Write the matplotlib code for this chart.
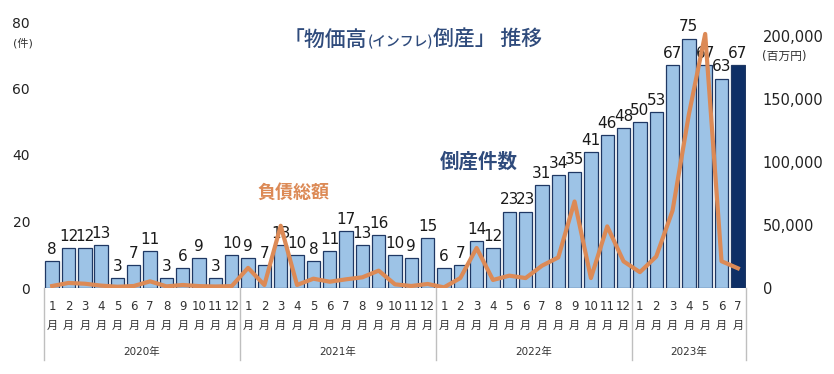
import numpy as np
import matplotlib
matplotlib.use("Agg")
import matplotlib.pyplot as plt
import matplotlib.transforms as mtransforms

plt.rcParams['font.family'] = ['DejaVu Sans', 'Noto Sans CJK JP']

# 倒産件数（月次）
years = ["2020年", "2021年", "2022年", "2023年"]
months_per_year = [12, 12, 12, 7]
counts = [8, 12, 12, 13, 3, 7, 11, 3, 6, 9, 3, 10,
          9, 7, 13, 10, 8, 11, 17, 13, 16, 10, 9, 15,
          6, 7, 14, 12, 23, 23, 31, 34, 35, 41, 46, 48,
          50, 53, 67, 75, 67, 63, 67]
# 負債総額（百万円）— 画像から読み取った概算値
debt = [1600, 4000, 3400, 1900, 1000, 1600, 5300, 1300, 2400, 1500, 1200, 1500,
        16000, 2400, 49500, 2400, 7400, 5000, 6900, 8500, 13800, 2900, 1600, 3200,
        500, 7900, 31800, 6400, 9800, 7900, 17700, 24300, 68800, 7900, 49000, 21200,
        12600, 25000, 61500, 138000, 202000, 21300, 15700]
left_ticks = [0, 20, 40, 60, 80]
right_ticks = [0, 50000, 100000, 150000, 200000]

BAR_COL = "#9DC3E6"
BAR_EDGE = "#1F3864"
LAST_COL = "#0E2F66"
LINE_COL = "#DC8A56"
TITLE_COL = "#2F4B7C"
GRID_GRAY = "#BFBFBF"

W, H = 834, 374
fig = plt.figure(figsize=(W / 100, H / 100), dpi=100)
ax = fig.add_axes([44 / W, 1 - 288 / H, 702 / W, 266 / H])

n = len(counts)
x = np.arange(n)
colors = [BAR_COL] * (n - 1) + [LAST_COL]
ax.bar(x, counts, width=0.82, color=colors, edgecolor=BAR_EDGE, linewidth=0.9, zorder=2)
ax.set_xlim(-0.5, n - 0.5)
ax.set_ylim(0, 80)
ax.set_yticks(left_ticks)
ax.tick_params(axis="y", length=0, labelsize=10, pad=10, labelcolor="#222222")
ax.set_xticks([])
for s in ax.spines.values():
    s.set_visible(False)
ax.axhline(0, color=GRID_GRAY, lw=1.0, zorder=1)

for xi, c in zip(x, counts):
    ax.annotate(str(c), (xi, c), xytext=(0, 3), textcoords="offset points",
                ha="center", va="bottom", fontsize=11, color="#1a1a1a", zorder=5)

# 月・年ラベル（Excel の多段カテゴリ軸風）
trans = mtransforms.blended_transform_factory(ax.transData, ax.transAxes)
i = 0
bounds = [-0.5]
for yr, nm in zip(years, months_per_year):
    for m in range(1, nm + 1):
        ax.text(i, -0.068, str(m), transform=trans, ha="center", va="center",
                fontsize=8.5, color="#333333")
        ax.text(i, -0.142, "月", transform=trans, ha="center", va="center",
                fontsize=8, color="#333333")
        i += 1
    bounds.append(i - 0.5)
    ax.text((bounds[-2] + bounds[-1]) / 2, -0.24, yr, transform=trans, ha="center",
            va="center", fontsize=7.5, color="#333333")
for b in bounds:
    ax.plot([b, b], [0, -0.27], transform=trans, color=GRID_GRAY, lw=1.0, clip_on=False)

# 負債総額（右軸）
ax2 = ax.twinx()
ax2.plot(x, debt, color=LINE_COL, lw=3, solid_joinstyle="round", zorder=4)
ax2.set_ylim(0, 211500)
ax2.set_yticks(right_ticks)
ax2.set_yticklabels([f"{v:,}" for v in right_ticks])
ax2.tick_params(axis="y", length=0, labelsize=10.5, pad=12, labelcolor="#222222")
for s in ax2.spines.values():
    s.set_visible(False)

# 単位
fig.text(23 / W, 1 - 43 / H, "(件)", ha="center", va="center", fontsize=8, color="#333333")
fig.text(762 / W, 1 - 56 / H, "(百万円)", ha="left", va="center", fontsize=8.5, color="#333333")

# 系列名
fig.text(440 / W, 1 - 162 / H, "倒産件数", ha="left", va="center", fontsize=14,
         fontweight="bold", color=TITLE_COL)
fig.text(257 / W, 1 - 193 / H, "負債総額", ha="left", va="center", fontsize=13,
         fontweight="bold", color=LINE_COL)

# タイトル（括弧内だけ小さく）
fig.canvas.draw()
renderer = fig.canvas.get_renderer()
pieces = [("「物価高", 15), ("(インフレ)", 10), ("倒産」 推移", 15)]
xpos = 284
for txt, fs in pieces:
    t = fig.text(xpos / W, 1 - 46 / H, txt, ha="left", va="baseline", fontsize=fs,
                 fontweight="medium", color=TITLE_COL, family=["Noto Sans CJK JP"])
    xpos += t.get_window_extent(renderer).width

fig.savefig("out.png", dpi=100)
